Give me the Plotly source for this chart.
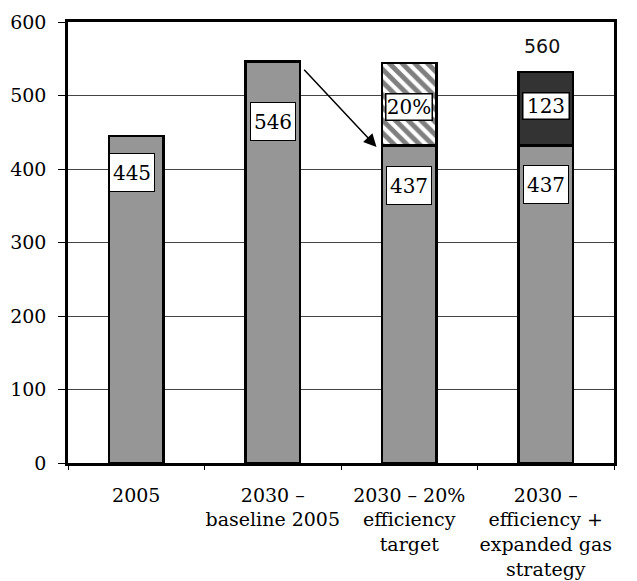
import plotly.graph_objects as go

# ---- data ----
categories = ["2005", "2030 –<br>baseline 2005", "2030 – 20%<br>efficiency<br>target",
              "2030 –<br>efficiency +<br>expanded gas<br>strategy"]
base_values = [445, 546, 432, 432]          # grey segments
efficiency_values = [None, None, 112, None]  # hatched segment
gas_values = [None, None, None, 100]        # dark segment
base_labels = ["445", "546", "437", "437"]
upper_labels = [None, None, "20%", "123"]
total_label = "560"
y_ticks = [0, 100, 200, 300, 400, 500, 600]

# ---- label placement (layout) ----
base_label_y = [395, 465, 377, 379]
base_label_shift = [-4, 0, 0, 0]
upper_label_y = [None, None, 484, 486]

pos = list(range(len(categories)))
bounds = [p - 0.5 for p in pos] + [pos[-1] + 0.5]

fig = go.Figure()
fig.add_bar(x=pos, y=base_values, width=0.4,
            marker=dict(color="#969696", line=dict(color="black", width=2.5)))
fig.add_bar(x=pos, y=efficiency_values, width=0.4,
            marker=dict(color="white", line=dict(color="black", width=2.5),
                        pattern=dict(shape="\\", fgcolor="black", bgcolor="white",
                                     size=9, solidity=0.55)))
fig.add_bar(x=pos, y=gas_values, width=0.4,
            marker=dict(color="#333333", line=dict(color="black", width=2.5)))
# invisible trace to activate the boundary-tick axis
fig.add_scatter(x=bounds, y=[0] * len(bounds), xaxis="x2", mode="markers",
                marker=dict(opacity=0), hoverinfo="skip")

ann = []
for p, t, yy, sh in zip(pos, base_labels, base_label_y, base_label_shift):
    ann.append(dict(x=p, y=yy, text=t, showarrow=False, bgcolor="white",
                    bordercolor="black", borderwidth=1, borderpad=0,
                    width=44, height=37, xshift=sh,
                    font=dict(family="DejaVu Serif", size=20, color="black")))
for p, t, yy in zip(pos, upper_labels, upper_label_y):
    if t is None:
        continue
    ann.append(dict(x=p, y=yy, text=t, showarrow=False, bgcolor="white",
                    bordercolor="black", borderwidth=1.5, borderpad=0,
                    width=45, height=25,
                    font=dict(family="DejaVu Serif", size=20, color="black")))
ann.append(dict(x=pos[3], y=567, text=total_label, showarrow=False,
                xshift=-4, font=dict(family="DejaVu Sans", size=19, color="#111111")))
# arrow from baseline bar to efficiency bar
ann.append(dict(x=1.76, y=430, ax=1.22, ay=537, xref="x", yref="y",
                axref="x", ayref="y", text="", showarrow=True,
                arrowhead=2, arrowsize=1.7, arrowwidth=1.5, arrowcolor="black"))

# page body has an 8px default margin, so the figure is sized to compensate
fig.update_layout(
    barmode="stack", width=629, height=573, showlegend=False,
    plot_bgcolor="white", paper_bgcolor="white",
    margin=dict(l=60, r=23, t=14, b=118, autoexpand=False),
    annotations=ann,
    xaxis=dict(range=[-0.5, 3.5], tickvals=pos, ticktext=categories, ticks="",
               showline=True, mirror=True, linecolor="black", linewidth=2.5,
               showgrid=False, zeroline=False, ticklabelstandoff=13, automargin=False,
               tickfont=dict(family="DejaVu Serif", size=19, color="black")),
    xaxis2=dict(range=[-0.5, 3.5], overlaying="x", side="bottom", tickvals=bounds,
                showticklabels=False, ticks="outside", ticklen=6, tickcolor="black",
                tickwidth=1, showgrid=False, zeroline=False, showline=False,
                automargin=False),
    yaxis=dict(range=[0, 600], tickvals=y_ticks, ticks="outside", ticklen=7,
               tickcolor="black", showline=True, mirror=True, linecolor="black",
               linewidth=2.5, showgrid=True, gridcolor="#444444", gridwidth=1,
               zeroline=False, ticklabelstandoff=8, automargin=False,
               tickfont=dict(family="DejaVu Serif", size=19, color="black")),
)

fig.write_html("out.html")
